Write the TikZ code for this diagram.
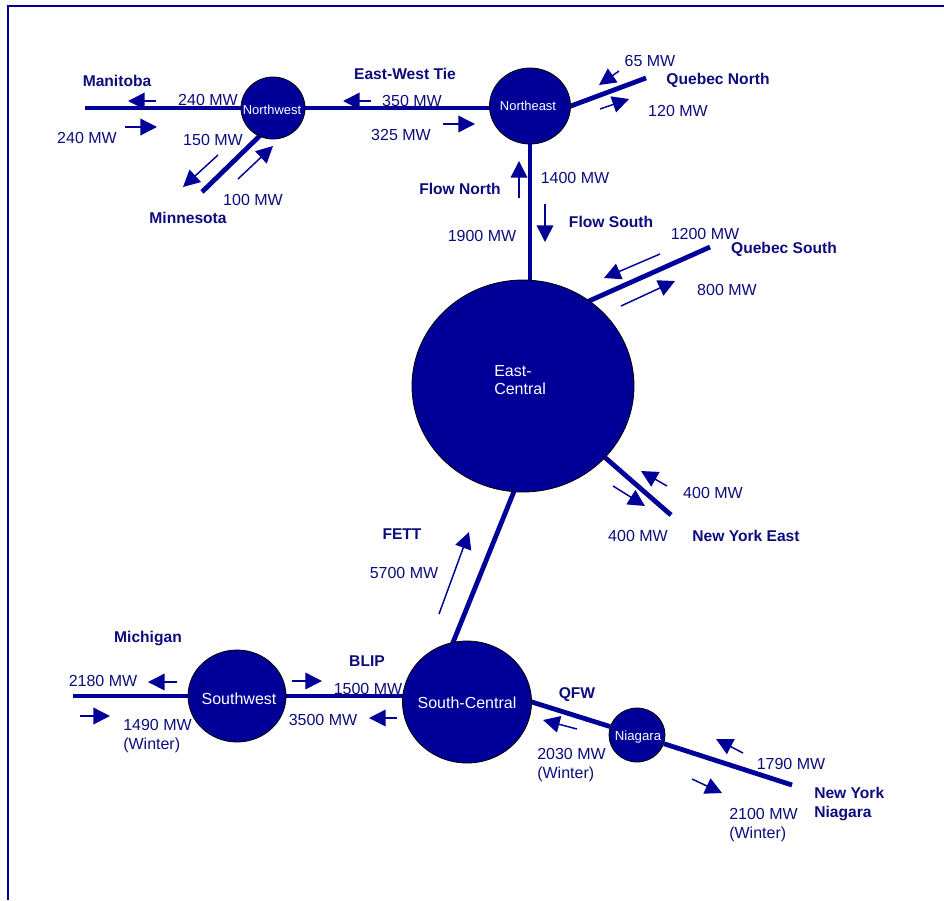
\documentclass[tikz,border=0pt]{standalone}
\usepackage{fontspec}
\setmainfont{Liberation Sans}
\usetikzlibrary{shapes.geometric,arrows.meta,backgrounds}
\definecolor{navy}{RGB}{0,0,153}
\definecolor{ink}{RGB}{12,12,125}
\begin{document}
\begin{tikzpicture}[x=0.75pt,y=-0.75pt,
  hub/.style={ellipse,draw=black,line width=0.6pt,fill=navy,inner sep=0pt},
  hubtxt/.style={text=white,inner sep=0pt,font=\fontsize{12}{14}\selectfont,align=left},
  hubsmall/.style={hubtxt,font=\fontsize{9.7}{11}\selectfont},
  tie/.style={draw=navy,line width=3.6pt},
  flow/.style={draw=navy,line width=1.1pt,-{Triangle[length=12.5pt,width=12.5pt]}},
  lbl/.style={text=ink,inner sep=0pt,font=\fontsize{12}{14}\selectfont,text height=8.6pt,text depth=0pt},
  blbl/.style={lbl,font=\bfseries\fontsize{11.7}{14}\selectfont},
  mlbl/.style={text=ink,inner sep=0pt,font=\fontsize{12}{14}\selectfont,align=left,anchor=west},
  bmlbl/.style={mlbl,font=\bfseries\fontsize{11.7}{14}\selectfont}]
\useasboundingbox (0,0) rectangle (944,900);
% frame
\draw[navy,line width=1.5pt] (944,6) -- (8,6) -- (8,900);

% hubs
\node[hub,minimum width=48pt,minimum height=46.5pt] (NW) at (273,108) {};
\node[hubsmall] (NWt) at (272,110) {Northwest};
\node[hub,minimum width=60.75pt,minimum height=57pt] (NE) at (530,106) {};
\node[hubsmall] (NEt) at (528,106) {Northeast};
\node[hub,minimum width=166.5pt,minimum height=159pt] (EC) at (523,386) {};
\node[hubtxt,anchor=west] (ECt) at (494,380) {East-\\Central};
\node[hub,minimum width=96.75pt,minimum height=91.5pt] (SC) at (467,702) {};
\node[hubtxt] (SCt) at (467,703) {South-Central};
\node[hub,minimum width=73.5pt,minimum height=69pt] (SW) at (237,696) {};
\node[hubtxt] (SWt) at (239,699) {Southwest};
\node[hub,minimum width=42pt,minimum height=40.5pt] (NIA) at (637,735) {};
\node[hubsmall,font=\fontsize{9.9}{11}\selectfont] (NIAt) at (638,737) {Niagara};

% free ends of ties
\coordinate (man) at (85,108);
\coordinate (mn) at (202,192);
\coordinate (qn) at (646,78);
\coordinate (qs) at (710,247);
\coordinate (nye) at (671,515);
\coordinate (mich) at (73,696);
\coordinate (nyn) at (792,785);

\begin{scope}[on background layer]
\draw[tie] (man) -- (NW);
\draw[tie] (NW) -- (NW -| NE);
\draw[tie,shorten <=-3pt] (NE.east) -- (qn);
\draw[tie,shorten <=-3pt] (NW.-116) -- (mn);
\draw[tie] (NE) -- (NE |- EC);
\draw[tie,shorten <=-4pt] (EC.52) -- (qs);
\draw[tie] (EC) -- (nye);
\draw[tie,shorten <=-4pt,shorten >=-4pt] (EC.-95) -- (SC.103);
\draw[tie] (mich) -- (SW);
\draw[tie] (SW) -- (SW -| SC);
\draw[tie,shorten <=-4pt] (SC.east) -- (NIA);
\draw[tie] (NIA) -- (nyn);
\end{scope}

% flow arrows
\draw[flow] (156,101) -- (128,101);
\draw[flow] (125,127) -- (157,127);
\draw[flow] (218,155) -- (183,187);
\draw[flow] (238,179) -- (273,146);
\draw[flow] (371,101) -- (343,101);
\draw[flow] (443,124) -- (475,124);
\draw[flow] (619,71) -- (599,85);
\draw[flow] (600,109) -- (629,99);
\draw[flow] (519,198) -- (519,161);
\draw[flow] (545,204) -- (545,242);
\draw[flow] (660,254) -- (604,278);
\draw[flow] (621,306) -- (675,281);
\draw[flow] (667,486) -- (641,471);
\draw[flow] (613,486) -- (645,506);
\draw[flow] (439,614) -- (469,532);
\draw[flow] (177,682) -- (148,682);
\draw[flow] (80,716) -- (110,716);
\draw[flow] (292,681) -- (322,681);
\draw[flow] (397,718) -- (369,718);
\draw[flow] (577,729) -- (543,720);
\draw[flow] (743,753) -- (716,739);
\draw[flow] (692,779) -- (722,793);

% labels
\node[blbl] (lMan) at (117,81) {Manitoba};
\node[lbl] (l240a) at (208,100) {240 MW};
\node[lbl] (l240b) at (87,138) {240 MW};
\node[lbl] (l150) at (213,140) {150 MW};
\node[lbl] (l100) at (253,200) {100 MW};
\node[blbl] (lMin) at (188,218) {Minnesota};
\node[blbl] (lEW) at (405,74) {East-West Tie};
\node[lbl] (l350) at (412,101) {350 MW};
\node[lbl] (l325) at (401,135) {325 MW};
\node[lbl] (l65) at (650,61) {65 MW};
\node[blbl] (lQN) at (718,79) {Quebec North};
\node[lbl] (l120) at (678,111) {120 MW};
\node[blbl] (lFN) at (460,189) {Flow North};
\node[lbl] (l1400) at (575,178) {1400 MW};
\node[blbl] (lFS) at (611,222) {Flow South};
\node[lbl] (l1900) at (482,236) {1900 MW};
\node[lbl] (l1200) at (705,234) {1200 MW};
\node[blbl] (lQS) at (784,248) {Quebec South};
\node[lbl] (l800) at (727,290) {800 MW};
\node[lbl] (l400a) at (713,493) {400 MW};
\node[lbl] (l400b) at (638,536) {400 MW};
\node[blbl] (lNYE) at (746,536) {New York East};
\node[blbl] (lFETT) at (402,534) {FETT};
\node[lbl] (l5700) at (404,573) {5700 MW};
\node[blbl] (lMich) at (148,637) {Michigan};
\node[lbl] (l2180) at (103,681) {2180 MW};
\node[mlbl] (l1490) at (123,736) {1490 MW\\(Winter)};
\node[blbl] (lBLIP) at (367,661) {BLIP};
\node[lbl] (l1500) at (368,689) {1500 MW};
\node[lbl] (l3500) at (323,720) {3500 MW};
\node[blbl] (lQFW) at (577,693) {QFW};
\node[mlbl] (l2030) at (537,765) {2030 MW\\(Winter)};
\node[lbl] (l1790) at (791,764) {1790 MW};
\node[bmlbl] (lNYN) at (814,804) {New York\\Niagara};
\node[mlbl] (l2100) at (729,825) {2100 MW\\(Winter)};
\end{tikzpicture}
\end{document}
